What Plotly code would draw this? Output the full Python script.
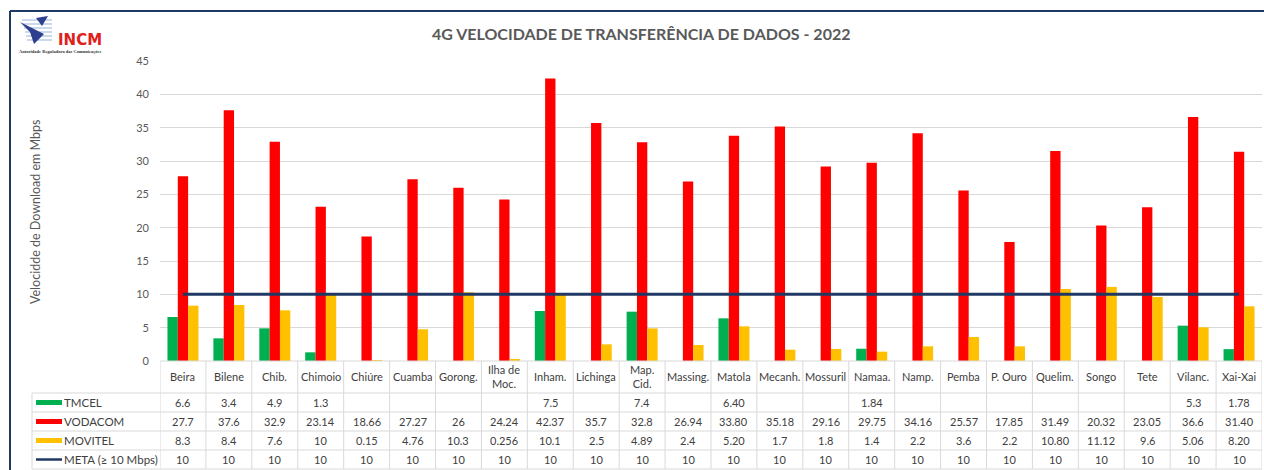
import plotly.graph_objects as go

categories = ["Beira", "Bilene", "Chib.", "Chimoio", "Chiúre", "Cuamba", "Gorong.",
              "Ilha de<br>Moc.", "Inham.", "Lichinga", "Map.<br>Cid.", "Massing.", "Matola",
              "Mecanh.", "Mossuril", "Namaa.", "Namp.", "Pemba", "P. Ouro", "Quelim.",
              "Songo", "Tete", "Vilanc.", "Xai-Xai"]
tmcel = ["6.6", "3.4", "4.9", "1.3", "", "", "", "", "7.5", "", "7.4", "", "6.40",
         "", "", "1.84", "", "", "", "", "", "", "5.3", "1.78"]
vodacom = ["27.7", "37.6", "32.9", "23.14", "18.66", "27.27", "26", "24.24", "42.37",
           "35.7", "32.8", "26.94", "33.80", "35.18", "29.16", "29.75", "34.16", "25.57",
           "17.85", "31.49", "20.32", "23.05", "36.6", "31.40"]
movitel = ["8.3", "8.4", "7.6", "10", "0.15", "4.76", "10.3", "0.256", "10.1", "2.5",
           "4.89", "2.4", "5.20", "1.7", "1.8", "1.4", "2.2", "3.6", "2.2", "10.80",
           "11.12", "9.6", "5.06", "8.20"]
meta = ["10"] * 24
series_names = ["TMCEL", "VODACOM", "MOVITEL", "META (≥ 10 Mbps)"]
y_ticks = [0, 5, 10, 15, 20, 25, 30, 35, 40, 45]

C_GREEN, C_RED, C_YEL, C_NAVY = "#00B050", "#FF0000", "#FFC000", "#1F3864"
FONT = "Lato, 'Open Sans', sans-serif"
TXT = "#404040"
GRID = "#D9D9D9"

W, H = 1264, 470
L, R, T, B = 160, 2, 61, 109
PW, PH = W - L - R, H - T - B


def px(x):
    return (x - L) / PW


def py(y):
    return (H - B - y) / PH


def num(v):
    return float(v) if v != "" else None


idx = list(range(len(categories)))
fig = go.Figure()
for name, vals, col in [("TMCEL", tmcel, C_GREEN), ("VODACOM", vodacom, C_RED),
                        ("MOVITEL", movitel, C_YEL)]:
    fig.add_trace(go.Bar(x=idx, y=[num(v) for v in vals], name=name,
                         marker=dict(color=col, line=dict(width=0))))
fig.add_trace(go.Scatter(x=idx, y=[num(v) for v in meta], mode="lines",
                         name=series_names[3], line=dict(color=C_NAVY, width=3)))

shapes, annots = [], []
# border of the picture
shapes.append(dict(type="line", xref="paper", yref="paper", x0=px(10), x1=px(1270),
                   y0=py(11), y1=py(11), line=dict(color=C_NAVY, width=2)))
shapes.append(dict(type="line", xref="paper", yref="paper", x0=px(10), x1=px(10),
                   y0=py(11), y1=py(475), line=dict(color=C_NAVY, width=2)))

# table geometry
hdr_top, hdr_bot = 361, 393
row_edges = [393, 412, 431, 450, 469]
n = len(categories)
shapes.append(dict(type="line", xref="x", yref="paper", x0=-0.5, x1=n - 0.5,
                   y0=py(hdr_top), y1=py(hdr_top), line=dict(color=GRID, width=1)))
for ry in row_edges:
    shapes.append(dict(type="line", xref="paper", yref="paper", x0=px(32), x1=1,
                       y0=py(ry), y1=py(ry), line=dict(color=GRID, width=1)))
for i in range(n + 1):
    shapes.append(dict(type="line", xref="x", yref="paper", x0=i - 0.5, x1=i - 0.5,
                       y0=py(hdr_top), y1=py(row_edges[-1]), line=dict(color=GRID, width=1)))
shapes.append(dict(type="line", xref="paper", yref="paper", x0=px(32), x1=px(32),
                   y0=py(row_edges[0]), y1=py(row_edges[-1]), line=dict(color=GRID, width=1)))

for i, c in enumerate(categories):
    annots.append(dict(x=i, y=py((hdr_top + hdr_bot) / 2), xref="x", yref="paper",
                       text=c, showarrow=False, font=dict(family=FONT, size=11, color=TXT),
                       xanchor="center", yanchor="middle"))
rows = [tmcel, vodacom, movitel, meta]
cols = [C_GREEN, C_RED, C_YEL, C_NAVY]
for r, (vals, col, name) in enumerate(zip(rows, cols, series_names)):
    yc = py((row_edges[r] + row_edges[r + 1]) / 2)
    for i, v in enumerate(vals):
        if v != "":
            annots.append(dict(x=i, y=yc, xref="x", yref="paper", text=v, showarrow=False,
                               font=dict(family=FONT, size=11, color=TXT),
                               xanchor="center", yanchor="middle"))
    lw = 2.5 if r == 3 else 5
    shapes.append(dict(type="line", xref="paper", yref="paper", x0=px(36), x1=px(62),
                       y0=yc, y1=yc, line=dict(color=col, width=lw)))
    annots.append(dict(x=px(62), y=yc, xref="paper", yref="paper", text=name, showarrow=False,
                       font=dict(family=FONT, size=11.5, color=TXT),
                       xanchor="left", yanchor="middle"))

annots.append(dict(x=px(641), y=py(33), xref="paper", yref="paper",
                   text="<b>4G VELOCIDADE DE TRANSFERÊNCIA DE DADOS - 2022</b>",
                   showarrow=False, font=dict(family=FONT, size=16, color="#595959"),
                   xanchor="center", yanchor="middle"))
annots.append(dict(x=px(35), y=py(212), xref="paper", yref="paper",
                   text="Velocidde de Download em Mbps", textangle=-90, showarrow=False,
                   font=dict(family=FONT, size=12.5, color="#595959"),
                   xanchor="center", yanchor="middle"))

# logo
for k, yy in enumerate([20, 24, 28, 32, 36, 40]):
    shapes.append(dict(type="line", xref="paper", yref="paper", x0=px(22 + k), x1=px(52),
                       y0=py(yy), y1=py(yy), line=dict(color="#B8CCE4", width=1.5)))
shapes.append(dict(type="path", xref="paper", yref="paper",
                   path=f"M {px(20)} {py(22)} L {px(44)} {py(34)} L {px(34)} {py(44)} L {px(30)} {py(32)} Z",
                   fillcolor="#2F3F8F", line=dict(width=0)))
shapes.append(dict(type="path", xref="paper", yref="paper",
                   path=f"M {px(36)} {py(18)} L {px(48)} {py(16)} L {px(42)} {py(26)} Z",
                   fillcolor="#2F3F8F", line=dict(width=0)))
annots.append(dict(x=px(56), y=py(40), xref="paper", yref="paper", text="<b>INCM</b>",
                   showarrow=False, font=dict(family="DejaVu Sans", size=15, color="#E0201B"),
                   xanchor="left", yanchor="middle"))
annots.append(dict(x=px(17), y=py(51.5), xref="paper", yref="paper",
                   text="<b>Autoridade Reguladora das Comunicações</b>", showarrow=False,
                   font=dict(family="Liberation Serif", size=4.5, color="#333333"),
                   xanchor="left", yanchor="middle"))

fig.update_layout(
    width=W, height=H, margin=dict(l=L, r=R, t=T, b=B, autoexpand=False),
    paper_bgcolor="white", plot_bgcolor="white", showlegend=False,
    barmode="group", bargap=0.325, bargroupgap=0,
    shapes=shapes, annotations=annots,
    xaxis=dict(range=[-0.5, n - 0.5], showticklabels=False, showgrid=False,
               zeroline=False, showline=False, fixedrange=True),
    yaxis=dict(range=[0, 45], tickvals=y_ticks, showgrid=True, gridcolor=GRID, gridwidth=1,
               zeroline=False, showline=False, ticklabelstandoff=10,
               tickfont=dict(family=FONT, size=11, color="#595959")),
)
fig.write_html("out.html", config={"displayModeBar": False},
               post_script="document.body.style.margin='0';document.body.style.overflow='hidden';")
